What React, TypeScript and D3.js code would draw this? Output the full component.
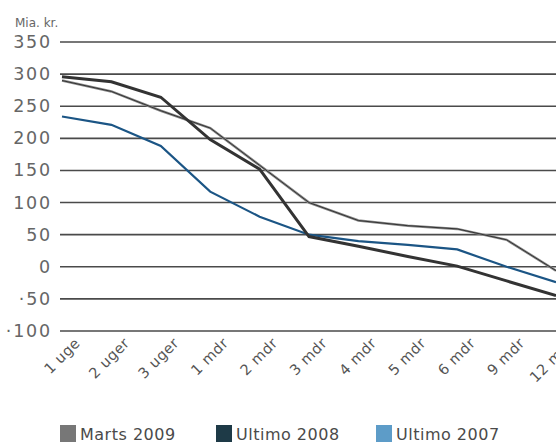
import React, { useEffect, useRef } from 'react';
import * as d3 from 'd3';

// periods on the x axis
const periods = ['1 uge', '2 uger', '3 uger', '1 mdr', '2 mdr', '3 mdr', '4 mdr', '5 mdr', '6 mdr', '9 mdr', '12 mdr'];

// values in mia. kr.
const marts2009 = [290, 273, 243, 216, 158, 100, 72, 64, 59, 42, -6];
const ultimo2008 = [296, 288, 264, 198, 152, 47, 32, 16, 1, -22, -45];
const ultimo2007 = [234, 221, 188, 117, 78, 50, 40, 34, 27, 0, -24];

const yTicks = [350, 300, 250, 200, 150, 100, 50, 0, -50, -100];

const legendItems = ['Marts 2009', 'Ultimo 2008', 'Ultimo 2007'];
const legendColors = ['#777777', '#1e3a47', '#5d9cc8'];

const App = () => {
  const ref = useRef<SVGSVGElement>(null);

  useEffect(() => {
    const width = 556;
    const height = 445;
    const svg = d3.select(ref.current);
    svg.selectAll('*').remove();

    const x = d3.scalePoint<string>().domain(periods).range([62, 556]);
    const y = d3.scaleLinear().domain([-100, 350]).range([331, 42]);

    const font = "'DejaVu Sans', sans-serif";

    svg.append('rect').attr('width', width).attr('height', height).attr('fill', '#fff');

    // unit label
    svg.append('text')
      .attr('x', 15).attr('y', 27)
      .style('font-family', font).style('font-size', '12px')
      .attr('fill', '#666')
      .text('Mia. kr.');

    // gridlines + y labels
    const grid = svg.append('g');
    yTicks.forEach(t => {
      grid.append('line')
        .attr('x1', 60).attr('x2', width)
        .attr('y1', y(t)).attr('y2', y(t))
        .attr('stroke', '#4a4a4a')
        .attr('stroke-width', 1.6);
      grid.append('text')
        .attr('x', 52).attr('y', y(t) + 6)
        .attr('text-anchor', 'end')
        .style('font-family', font).style('font-size', '17.5px')
        .style('letter-spacing', '1.8px')
        .attr('fill', '#666')
        .text(t < 0 ? '·' + Math.abs(t) : String(t));
    });

    // x labels, rotated
    periods.forEach(p => {
      const px = (x(p) as number) + 19;
      const py = 344;
      svg.append('text')
        .attr('transform', 'translate(' + [px, py] + ') rotate(-45)')
        .attr('text-anchor', 'end')
        .style('font-family', font).style('font-size', '14.5px')
        .style('letter-spacing', '0.5px')
        .attr('fill', '#555')
        .text(p);
    });

    const line = d3.line<number>()
      .x((d, i) => x(periods[i]) as number)
      .y(d => y(d));

    svg.append('path')
      .attr('d', line(ultimo2007))
      .attr('fill', 'none')
      .attr('stroke', '#1b5585')
      .attr('stroke-width', 2.2);

    svg.append('path')
      .attr('d', line(marts2009))
      .attr('fill', 'none')
      .attr('stroke', '#888')
      .attr('stroke-width', 2.5);
    svg.append('path')
      .attr('d', line(marts2009))
      .attr('fill', 'none')
      .attr('stroke', '#333')
      .attr('stroke-width', 1);

    svg.append('path')
      .attr('d', line(ultimo2008))
      .attr('fill', 'none')
      .attr('stroke', '#333')
      .attr('stroke-width', 3);

    // legend
    const legendX = [60, 216, 376];
    legendItems.forEach((name, i) => {
      const g = svg.append('g').attr('transform', 'translate(' + [legendX[i], 425] + ')');
      g.append('rect')
        .attr('width', 16).attr('height', 17)
        .attr('fill', legendColors[i]);
      g.append('text')
        .attr('x', 20).attr('y', 15)
        .style('font-family', font).style('font-size', '16px')
        .style('letter-spacing', '0.5px')
        .attr('fill', '#4a4a4a')
        .text(name);
    });
  }, []);

  return (
    <svg ref={ref} width={556} height={445}
      style={{ position: 'absolute', left: 0, top: 0 }} />
  );
};

export default App;
